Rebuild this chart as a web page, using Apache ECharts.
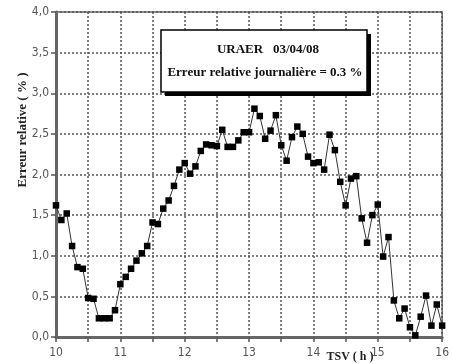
<!DOCTYPE html>
<html>
<head>
<meta charset="utf-8">
<script src="https://cdn.jsdelivr.net/npm/echarts@6/dist/echarts.min.js"></script>
<style>
  html, body { margin: 0; padding: 0; background: #fff; }
  #chart { width: 452px; height: 364px; }
</style>
</head>
<body>
<div id="chart"></div>
<script>
// relevés toutes les 5 minutes, TSV (h)
const times = [
  '10:00','10:05','10:10','10:15','10:20','10:25','10:30','10:35','10:40','10:45','10:50','10:55',
  '11:00','11:05','11:10','11:15','11:20','11:25','11:30','11:35','11:40','11:45','11:50','11:55',
  '12:00','12:05','12:10','12:15','12:20','12:25','12:30','12:35','12:40','12:45','12:50','12:55',
  '13:00','13:05','13:10','13:15','13:20','13:25','13:30','13:35','13:40','13:45','13:50','13:55',
  '14:00','14:05','14:10','14:15','14:20','14:25','14:30','14:35','14:40','14:45','14:50','14:55',
  '15:00','15:05','15:10','15:15','15:20','15:25','15:30','15:35','15:40','15:45','15:50','15:55',
  '16:00'
];
// erreur relative (%)
const errors = [
  1.62, 1.44, 1.52, 1.12, 0.86, 0.84, 0.48, 0.47, 0.23, 0.23, 0.23, 0.33,
  0.65, 0.74, 0.84, 0.94, 1.03, 1.12, 1.41, 1.39, 1.58, 1.68, 1.86, 2.06,
  2.14, 2.01, 2.10, 2.29, 2.37, 2.36, 2.35, 2.55, 2.34, 2.34, 2.42, 2.52,
  2.52, 2.81, 2.72, 2.44, 2.54, 2.73, 2.36, 2.17, 2.46, 2.59, 2.50, 2.22,
  2.14, 2.15, 2.06, 2.49, 2.30, 1.91, 1.62, 1.95, 1.98, 1.46, 1.16, 1.50,
  1.63, 0.99, 1.23, 0.45, 0.23, 0.35, 0.12, 0.02, 0.25, 0.51, 0.14, 0.40,
  0.14
];
const boxTitle = 'URAER   03/04/08';
const boxText = 'Erreur relative journalière = 0.3 %';
const xName = 'TSV ( h )';
const yName = 'Erreur relative ( % )';

const toHours = t => {
  const [h, m] = t.split(':').map(Number);
  return h + m / 60;
};
const points = times.map((t, i) => [toHours(t), errors[i]]);

const chart = echarts.init(document.getElementById('chart'));
const tickFont = "'Liberation Sans Narrow', 'DejaVu Sans Condensed', 'Liberation Sans', sans-serif";
const serif = "'Liberation Serif', 'DejaVu Serif', serif";
const gridLine = { show: true, lineStyle: { color: '#555', width: 1.5, type: [2, 2] } };

chart.setOption({
  backgroundColor: '#fff',
  animation: false,
  grid: { left: 56, top: 12, right: 4, bottom: 27, show: true, borderColor: '#666', borderWidth: 1.5 },
  xAxis: {
    type: 'value',
    min: 10, max: 16, interval: 0.5,
    axisLine: { lineStyle: { color: '#666', width: 3 } },
    axisTick: { show: true, length: 5, lineStyle: { color: '#555', width: 1.5 } },
    axisLabel: {
      color: '#555', fontSize: 12, fontFamily: tickFont, margin: 10,
      formatter: v => (Number.isInteger(v) ? String(v) : '')
    },
    splitLine: gridLine
  },
  yAxis: {
    type: 'value',
    min: 0, max: 4, interval: 0.5,
    axisLine: { show: true, lineStyle: { color: '#666', width: 3 } },
    axisTick: { show: true, length: 5, lineStyle: { color: '#555', width: 1.5 } },
    axisLabel: {
      color: '#555', fontSize: 12, fontFamily: tickFont, margin: 7,
      formatter: v => v.toFixed(1).replace('.', ',')
    },
    splitLine: gridLine
  },
  series: [{
    type: 'line',
    data: points,
    symbol: 'rect',
    symbolSize: 6.5,
    showAllSymbol: true,
    lineStyle: { color: '#333', width: 1 },
    itemStyle: { color: '#000' }
  }],
  graphic: [
    { type: 'rect', shape: { x: 165, y: 34, width: 206, height: 62 }, style: { fill: '#000' }, z: 100 },
    { type: 'rect', shape: { x: 161, y: 30, width: 206, height: 62 },
      style: { fill: '#fff', stroke: '#000', lineWidth: 1.5 }, z: 101 },
    { type: 'text', x: 268, y: 50, z: 102,
      style: { text: boxTitle, font: "bold 13px " + serif, fill: '#111', align: 'center', verticalAlign: 'middle' } },
    { type: 'text', x: 265, y: 73, z: 102,
      style: { text: boxText, font: "bold 13px " + serif, fill: '#111', align: 'center', verticalAlign: 'middle' } },
    { type: 'text', x: 350, y: 357, z: 102,
      style: { text: xName, font: "bold 12px " + serif, fill: '#222', align: 'center', verticalAlign: 'middle' } },
    { type: 'text', x: 23, y: 130, rotation: Math.PI / 2, z: 102,
      style: { text: yName, font: "bold 13px " + serif, fill: '#222', align: 'center', verticalAlign: 'middle' } }
  ]
});
</script>
</body>
</html>
